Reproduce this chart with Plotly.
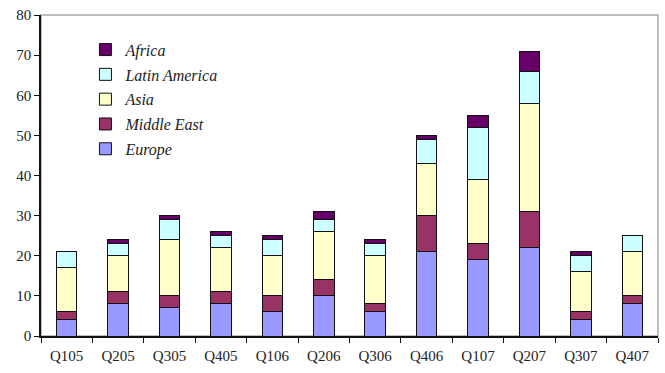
import plotly.graph_objects as go

quarters = ["Q105", "Q205", "Q305", "Q405", "Q106", "Q206",
            "Q306", "Q406", "Q107", "Q207", "Q307", "Q407"]

europe = [4, 8, 7, 8, 6, 10, 6, 21, 19, 22, 4, 8]
middle_east = [2, 3, 3, 3, 4, 4, 2, 9, 4, 9, 2, 2]
asia = [11, 9, 14, 11, 10, 12, 12, 13, 16, 27, 10, 11]
latin_america = [4, 3, 5, 3, 4, 3, 3, 6, 13, 8, 4, 4]
africa = [0, 1, 1, 1, 1, 2, 1, 1, 3, 5, 1, 0]

series = [
    ("Europe", europe, "#9999FF"),
    ("Middle East", middle_east, "#993366"),
    ("Asia", asia, "#FFFFCC"),
    ("Latin America", latin_america, "#CCFFFF"),
    ("Africa", africa, "#660066"),
]

fig = go.Figure()
for i, (name, vals, color) in enumerate(series):
    fig.add_trace(go.Bar(
        x=quarters, y=vals, name=name, legendgroup=name,
        legendrank=100 - i,
        marker=dict(color=color, line=dict(color="#111111", width=1)),
    ))

serif = "Liberation Serif, Times New Roman, serif"

fig.update_layout(
    width=665, height=373,
    margin=dict(l=41, r=7, t=15, b=37),
    barmode="stack",
    bargap=0.6,
    plot_bgcolor="white",
    paper_bgcolor="white",
    font=dict(family=serif, size=15, color="#222222"),
    legend=dict(
        x=0.072, y=0.945, xanchor="left", yanchor="top",
        traceorder="grouped", tracegroupgap=1,
        font=dict(family=serif, size=16, color="#222222", style="italic"),
        bgcolor="rgba(0,0,0,0)",
    ),
    shapes=[dict(
        type="rect", xref="paper", yref="paper", x0=0, y0=0, x1=1, y1=1,
        line=dict(color="#aaaaaa", width=1.5), layer="below",
    )],
)

fig.update_xaxes(
    showline=True, linecolor="#111111", linewidth=1.5,
    ticks="outside", tickson="boundaries", ticklen=5, tickcolor="#111111",
    ticklabelstandoff=5,
    showgrid=False, tickfont=dict(family=serif, size=15),
)
fig.update_yaxes(
    range=[0, 80], dtick=10,
    showline=True, linecolor="#111111", linewidth=1.5,
    ticks="outside", ticklen=5, tickcolor="#111111",
    showgrid=False, zeroline=False, tickfont=dict(family=serif, size=15),
)

fig.write_html("out.html")
